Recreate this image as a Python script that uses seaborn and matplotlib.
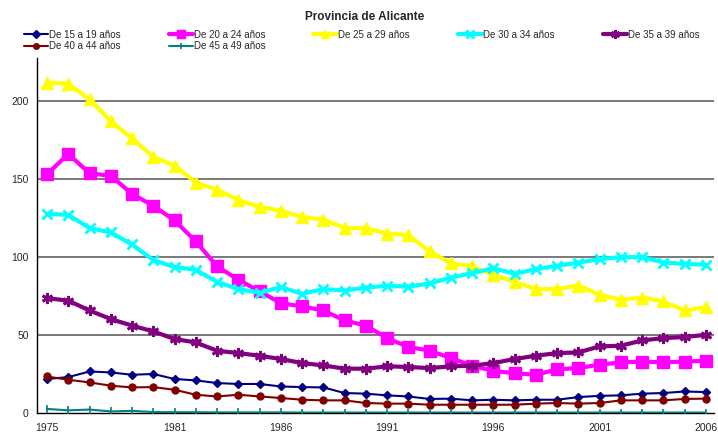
import matplotlib
matplotlib.use("Agg")
import matplotlib.pyplot as plt
import seaborn as sns
import pandas as pd

sns.set_style("white")
plt.rcParams['font.family'] = ['Liberation Sans', 'DejaVu Sans']

years = list(range(1975, 2007))
labeled_years = [1975, 1981, 1986, 1991, 1996, 2001, 2006]

s15_19 = [21.8, 23.0, 26.6, 26.0, 24.5, 25.0, 21.8, 20.9, 19.2, 18.6, 18.6, 17.0, 16.6, 16.4, 12.8, 12.4,
          11.3, 10.6, 9.0, 9.2, 8.1, 8.5, 8.1, 8.5, 8.5, 10.2, 11.0, 11.3, 12.4, 12.8, 13.8, 13.4]
s20_24 = [153.0, 166.0, 153.7, 152.0, 140.4, 132.8, 123.4, 110.0, 94.0, 85.4, 78.0, 70.4, 68.3, 65.7, 59.3, 56.0,
          48.0, 42.3, 40.0, 35.2, 30.3, 27.0, 25.5, 24.5, 28.0, 28.8, 31.0, 32.4, 33.0, 32.4, 33.0, 33.5]
s25_29 = [211.7, 211.0, 201.0, 187.0, 176.0, 164.0, 158.6, 147.7, 143.0, 136.6, 132.0, 129.7, 125.5, 124.0, 118.5, 118.5,
          115.0, 114.0, 103.5, 96.0, 94.0, 88.6, 84.0, 79.4, 79.4, 81.7, 75.8, 72.6, 74.0, 71.5, 65.7, 67.9]
s30_34 = [127.6, 127.0, 118.5, 115.7, 108.0, 98.0, 93.5, 91.8, 84.0, 79.4, 77.0, 80.7, 76.4, 79.4, 78.5, 80.4,
          81.5, 81.0, 83.0, 86.8, 89.6, 92.8, 89.2, 92.2, 94.3, 96.4, 98.6, 99.9, 99.9, 96.4, 95.6, 95.0]
s35_39 = [73.6, 72.0, 65.7, 60.2, 56.0, 52.3, 47.4, 45.2, 39.9, 38.4, 36.7, 34.6, 32.0, 30.5, 28.4, 28.4,
          29.9, 29.5, 28.8, 29.9, 30.3, 32.0, 34.6, 36.7, 38.4, 38.8, 42.7, 43.1, 46.5, 48.0, 48.7, 50.1]
s40_44 = [23.4, 21.3, 19.6, 17.5, 16.4, 16.6, 14.9, 11.7, 10.6, 11.7, 10.6, 9.6, 8.5, 8.1, 8.1, 6.4,
          6.0, 6.0, 5.3, 5.3, 5.3, 5.3, 5.3, 6.0, 6.4, 6.0, 6.4, 8.1, 8.1, 8.1, 9.0, 9.2]
s45_49 = [2.6, 1.7, 2.2, 1.0, 1.4, 0.6, 0.5, 0.5, 0.4, 0.4, 0.4, 0.4, 0.3, 0.3, 0.3, 0.3,
          0.3, 0.3, 0.3, 0.3, 0.3, 0.3, 0.3, 0.3, 0.3, 0.3, 0.3, 0.3, 0.3, 0.3, 0.3, 0.3]

series_names = ["De 15 a 19 años", "De 20 a 24 años", "De 25 a 29 años", "De 30 a 34 años",
                "De 35 a 39 años", "De 40 a 44 años", "De 45 a 49 años"]
series_values = [s15_19, s20_24, s25_29, s30_34, s35_39, s40_44, s45_49]

styles = {
    "De 15 a 19 años": dict(color="#000080", marker="D", lw=1.5, ms=4.5, mew=1),
    "De 20 a 24 años": dict(color="#FF00FF", marker="s", lw=3.0, ms=8, mew=1),
    "De 25 a 29 años": dict(color="#FFFF00", marker="^", lw=3.0, ms=8, mew=1),
    "De 30 a 34 años": dict(color="#00FFFF", marker="x", lw=3.0, ms=7, mew=2),
    "De 35 a 39 años": dict(color="#800080", marker=(6, 2, 0), lw=3.0, ms=8, mew=2),
    "De 40 a 44 años": dict(color="#800000", marker="o", lw=1.5, ms=5, mew=1),
    "De 45 a 49 años": dict(color="#008080", marker="|", lw=1.5, ms=6, mew=1.2),
}

fig = plt.figure(figsize=(7.18, 4.32), dpi=100)
ax = fig.add_axes([37 / 718, (432 - 413) / 432, (714 - 37) / 718, (413 - 58) / 432])

for name, vals in zip(series_names, series_values):
    st = styles[name]
    df = pd.DataFrame({"year": years, "value": vals})
    sns.lineplot(data=df, x="year", y="value", ax=ax, color=st["color"], marker=st["marker"],
                 linewidth=st["lw"], markersize=st["ms"], markeredgewidth=st["mew"],
                 markeredgecolor=st["color"], markerfacecolor=st["color"], label=name, zorder=3)

hmap = {l.get_label(): l for l in ax.get_lines()}
if ax.get_legend() is not None:
    ax.get_legend().remove()

ax.set_xlim(1974.53, 2006.38)
ax.set_ylim(0, 227.5)
ax.set_yticks([0, 50, 100, 150, 200])
ax.set_xticks(years)
ax.set_xticklabels([str(y) if y in labeled_years else "" for y in years])
ax.tick_params(axis="both", labelsize=7.5, length=4, width=0.8, direction="out", color="black", pad=2)
ax.tick_params(axis="x", pad=3)
ax.set_xlabel("")
ax.set_ylabel("")
for y in [50, 100, 150, 200]:
    ax.axhline(y, color="#555555", lw=1.1, zorder=1)
for sp in ["top", "right"]:
    ax.spines[sp].set_visible(False)
for sp in ["left", "bottom"]:
    ax.spines[sp].set_color("black")
    ax.spines[sp].set_linewidth(1.0)

fig.text(365 / 718, 1 - 17.5 / 432, "Provincia de Alicante", ha="center", va="center",
         fontsize=8.5, fontweight="bold")

order = ["De 15 a 19 años", "De 40 a 44 años", "De 20 a 24 años", "De 45 a 49 años",
         "De 25 a 29 años", "De 30 a 34 años", "De 35 a 39 años"]
leg = fig.legend([hmap[n] for n in order], order, ncol=5, loc="upper left",
                 bbox_to_anchor=(24 / 718, 1 - 29.5 / 432), frameon=False, fontsize=7,
                 handlelength=2.45, handletextpad=0.12, columnspacing=4.95, labelspacing=0.15,
                 borderpad=0, borderaxespad=0, markerscale=0.8)

fig.savefig("out.png", dpi=100, facecolor="white")
